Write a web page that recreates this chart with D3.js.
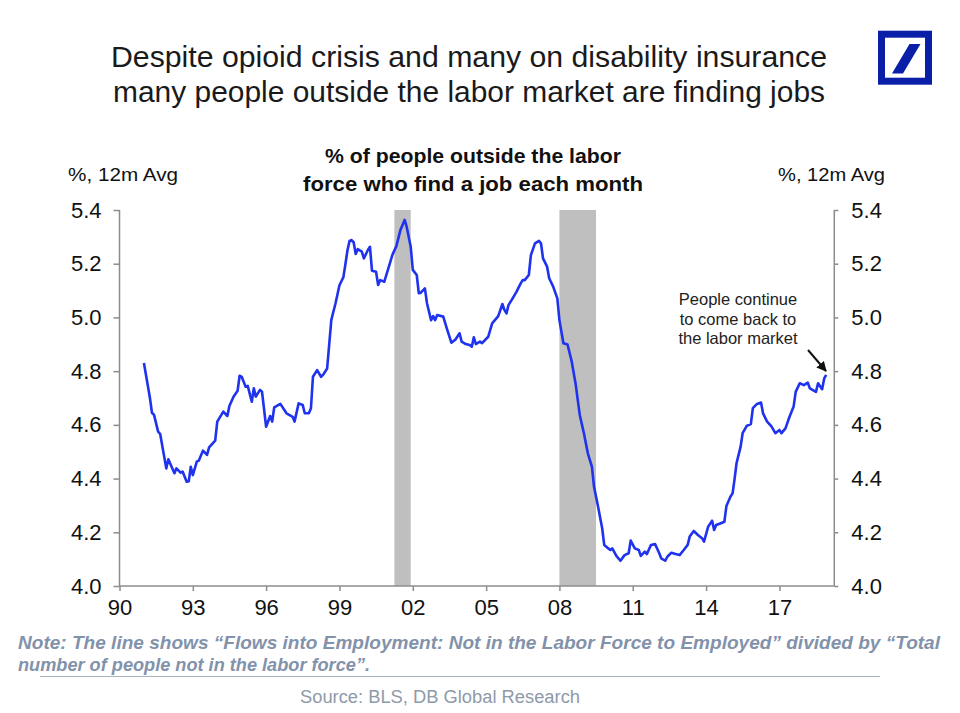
<!DOCTYPE html>
<html>
<head>
<meta charset="utf-8">
<script src="https://cdn.jsdelivr.net/npm/d3@7"></script>
<style>
  html, body { margin: 0; padding: 0; background: #fff; }
  svg { display: block; font-family: "Liberation Sans", Arial, sans-serif; }
</style>
</head>
<body>
<svg id="chart" width="960" height="713"></svg>
<script>
// ---- Data ----
const months = [
"1991-01","1991-04","1991-05","1991-06","1991-08","1991-09","1991-12",
"1992-01","1992-04","1992-05","1992-07","1992-08","1992-10","1992-11","1992-12",
"1993-01","1993-03","1993-04","1993-06","1993-08","1993-09","1993-12",
"1994-01","1994-04","1994-06","1994-07","1994-09","1994-11","1994-12",
"1995-01","1995-03","1995-04","1995-06","1995-07","1995-08","1995-10","1995-11",
"1996-01","1996-03","1996-04","1996-05","1996-08","1996-11",
"1997-02","1997-03","1997-05","1997-07","1997-08","1997-10","1997-11","1997-12",
"1998-02","1998-04","1998-05","1998-07","1998-08","1998-09","1998-10","1998-11",
"1999-01","1999-03","1999-04","1999-05","1999-06","1999-07","1999-08","1999-09","1999-10","1999-12",
"2000-01","2000-03","2000-04","2000-05","2000-07","2000-08","2000-09","2000-11",
"2001-01","2001-03","2001-05","2001-07","2001-08","2001-09","2001-10","2001-12",
"2002-01","2002-03","2002-04","2002-05","2002-07","2002-08","2002-10","2002-11","2002-12",
"2003-01","2003-04","2003-06","2003-08","2003-10","2003-12",
"2004-01","2004-03","2004-05","2004-06","2004-07","2004-08","2004-10","2004-11",
"2005-02","2005-04","2005-07","2005-09","2005-10","2005-11","2005-12",
"2006-02","2006-04","2006-06","2006-07","2006-08","2006-10","2006-11",
"2007-01","2007-03","2007-04","2007-05","2007-07","2007-08","2007-10","2007-12",
"2008-01","2008-03","2008-05","2008-07","2008-09","2008-10","2008-11",
"2009-01","2009-03","2009-05","2009-06","2009-08","2009-10","2009-11",
"2010-01","2010-02","2010-03","2010-05","2010-07","2010-09","2010-11","2010-12",
"2011-02","2011-04","2011-05","2011-07","2011-08","2011-09","2011-10","2011-12",
"2012-02","2012-03","2012-05","2012-06","2012-08","2012-10","2012-12",
"2013-02","2013-04","2013-05","2013-07","2013-09","2013-11","2013-12",
"2014-02","2014-04","2014-05","2014-06","2014-08","2014-10","2014-11",
"2015-01","2015-02","2015-03","2015-04","2015-06","2015-07","2015-09","2015-11","2015-12",
"2016-02","2016-04","2016-05","2016-07","2016-09","2016-11",
"2017-01","2017-02","2017-04","2017-06","2017-08","2017-09","2017-11",
"2018-01","2018-03","2018-04","2018-07","2018-08","2018-10","2018-11","2018-12"
];
const values = [
4.83,4.70,4.645,4.637,4.575,4.566,4.438,
4.472,4.42,4.438,4.422,4.426,4.388,4.39,4.444,
4.413,4.463,4.467,4.504,4.488,4.516,4.541,
4.612,4.649,4.633,4.670,4.705,4.727,4.783,
4.779,4.742,4.745,4.686,4.736,4.705,4.73,4.723,
4.593,4.633,4.612,4.665,4.678,4.643,
4.63,4.612,4.68,4.674,4.643,4.643,4.662,4.779,
4.804,4.779,4.786,4.81,4.90,4.99,5.02,5.05,
5.12,5.15,5.20,5.25,5.285,5.288,5.28,5.236,5.254,5.245,
5.22,5.251,5.263,5.174,5.17,5.121,5.139,5.133,
5.183,5.232,5.266,5.326,5.344,5.363,5.338,5.263,
5.177,5.158,5.09,5.092,5.108,5.053,4.99,5.005,4.99,
5.009,5.003,4.953,4.906,4.918,4.941,
4.91,4.901,4.897,4.891,4.926,4.901,4.91,4.904,
4.928,4.978,5.005,5.05,5.028,5.015,5.046,
5.071,5.096,5.127,5.139,5.139,5.158,5.232,
5.276,5.285,5.276,5.22,5.189,5.146,5.114,5.071,
4.99,4.904,4.899,4.838,4.75,4.693,4.636,
4.569,4.494,4.444,4.37,4.295,4.215,4.153,
4.14,4.134,4.14,4.112,4.094,4.115,4.122,4.169,
4.14,4.134,4.112,4.128,4.119,4.137,4.153,4.156,
4.122,4.103,4.094,4.109,4.124,4.119,4.115,
4.134,4.153,4.184,4.205,4.19,4.178,4.165,
4.221,4.243,4.209,4.227,4.233,4.239,4.298,
4.333,4.345,4.395,4.457,4.519,4.569,4.596,4.603,4.662,
4.678,4.683,4.643,4.612,4.595,4.569,
4.581,4.569,4.587,4.63,4.668,4.723,4.755,
4.748,4.757,4.736,4.723,4.755,4.733,4.773,4.786
];
const recessionStarts = ["2001-04","2008-01"];
const recessionEnds   = ["2001-12","2009-07"];
const xTickYears = [1990,1993,1996,1999,2002,2005,2008,2011,2014,2017];
const yTickValues = [4.0,4.2,4.4,4.6,4.8,5.0,5.2,5.4];

const titleLines = ["Despite opioid crisis and many on disability insurance",
                    "many people outside the labor market are finding jobs"];
const subtitleLines = ["% of people outside the labor", "force who find a job each month"];
const axisUnit = "%, 12m Avg";
const annotationLines = ["People continue","to come back to","the labor market"];
const noteLine1 = "Note: The line shows \u201cFlows into Employment: Not in the Labor Force to Employed\u201d divided by \u201cTotal";
const noteLine2 = "number of people not in the labor force\u201d.";
const sourceText = "Source: BLS, DB Global Research";

// ---- Chart ----
const parse = d3.timeParse("%Y-%m");
const series = months.map((m, i) => ({ date: parse(m), value: values[i] }));

const svg = d3.select("#chart");
const L = 119.5, R = 834.3, T = 210, B = 586;

const x = d3.scaleTime().domain([new Date(1990,0,1), new Date(2019,3,1)]).range([L, R]);
const y = d3.scaleLinear().domain([4.0, 5.4]).range([B, T]);

// Title
svg.append("g").selectAll("text").data(titleLines).join("text")
  .attr("x", 469).attr("y", (d, i) => 67 + i * 35)
  .attr("text-anchor", "middle").attr("font-size", 29).attr("fill", "#1a1a1a")
  .attr("textLength", (d, i) => i === 0 ? 716 : 712).attr("lengthAdjust", "spacingAndGlyphs")
  .text(d => d);

// Logo
const logo = svg.append("g");
logo.append("rect").attr("x", 881.5).attr("y", 34.2).attr("width", 47).attr("height", 47)
  .attr("fill", "none").attr("stroke", "#0a1fa8").attr("stroke-width", 7);
logo.append("polygon").attr("points", "909.5,44 920.5,44 903,73.5 892,73.5").attr("fill", "#0a1fa8");

// Subtitle
svg.append("g").selectAll("text").data(subtitleLines).join("text")
  .attr("x", 473).attr("y", (d, i) => 163 + i * 28)
  .attr("text-anchor", "middle").attr("font-size", 21).attr("font-weight", "bold").attr("fill", "#111")
  .attr("textLength", (d, i) => i === 0 ? 296 : 340).attr("lengthAdjust", "spacingAndGlyphs")
  .text(d => d);

// Unit labels
svg.append("text").attr("x", 68).attr("y", 181).attr("font-size", 19).attr("fill", "#111")
  .attr("textLength", 110).attr("lengthAdjust", "spacingAndGlyphs").text(axisUnit);
svg.append("text").attr("x", 778).attr("y", 181).attr("font-size", 19).attr("fill", "#111")
  .attr("textLength", 107).attr("lengthAdjust", "spacingAndGlyphs").text(axisUnit);

// Recession bands
svg.append("g").selectAll("rect").data(recessionStarts.map((s, i) => [parse(s), parse(recessionEnds[i])]))
  .join("rect")
  .attr("x", d => x(d[0])).attr("width", d => x(d[1]) - x(d[0]))
  .attr("y", T).attr("height", B - T).attr("fill", "#bfbfbf");

// Axes
const axisColor = "#8c8c8c";
const yLeft = svg.append("g").attr("transform", `translate(${L},0)`)
  .call(d3.axisLeft(y).tickValues(yTickValues).tickFormat(d3.format(".1f")).tickSize(6).tickPadding(12));
const yRight = svg.append("g").attr("transform", `translate(${R},0)`)
  .call(d3.axisRight(y).tickValues(yTickValues).tickFormat(d3.format(".1f")).tickSize(4).tickPadding(13));
const xAxis = svg.append("g").attr("transform", `translate(0,${B})`)
  .call(d3.axisBottom(x).tickValues(xTickYears.map(yr => new Date(yr,0,1))).tickFormat(d3.timeFormat("%y")).tickSize(5).tickPadding(8));
[yLeft, yRight, xAxis].forEach(g => {
  g.select(".domain").attr("stroke", axisColor).attr("stroke-width", 1.5);
  g.selectAll(".tick line").attr("stroke", axisColor).attr("stroke-width", 1.5);
  g.selectAll(".tick text").attr("font-size", 22).attr("fill", "#111")
    .attr("font-family", "'Liberation Sans', Arial, sans-serif");
});
xAxis.select(".domain").attr("d", `M${L},0H${R}`);
yLeft.select(".domain").attr("d", `M0,${T}V${B}`);
yRight.select(".domain").attr("d", `M0,${T}V${B}`);

// Line
svg.append("path").datum(series)
  .attr("d", d3.line().x(d => x(d.date)).y(d => y(d.value)).curve(d3.curveLinear))
  .attr("fill", "none").attr("stroke", "#1f32ee").attr("stroke-width", 2.6)
  .attr("stroke-linejoin", "round");

// Annotation
svg.append("g").selectAll("text").data(annotationLines).join("text")
  .attr("x", 738).attr("y", (d, i) => 305 + i * 19.6)
  .attr("text-anchor", "middle").attr("font-size", 16.5).attr("fill", "#222").text(d => d);
svg.append("defs").append("marker").attr("id", "arr").attr("viewBox", "0 0 10 10")
  .attr("refX", 9).attr("refY", 5).attr("markerWidth", 5).attr("markerHeight", 5).attr("orient", "auto")
  .append("path").attr("d", "M0,0L10,5L0,10Z").attr("fill", "#111");
svg.append("line").attr("x1", 808).attr("y1", 350).attr("x2", 826).attr("y2", 371)
  .attr("stroke", "#111").attr("stroke-width", 2).attr("marker-end", "url(#arr)");

// Note
const noteColor = "#8292aa";
svg.append("text").attr("x", 18).attr("y", 649).attr("font-size", 18).attr("font-weight", "bold")
  .attr("font-style", "italic").attr("fill", noteColor)
  .attr("textLength", 922).attr("lengthAdjust", "spacingAndGlyphs").text(noteLine1);
svg.append("text").attr("x", 18).attr("y", 671).attr("font-size", 18).attr("font-weight", "bold")
  .attr("font-style", "italic").attr("fill", noteColor)
  .attr("textLength", 352).attr("lengthAdjust", "spacingAndGlyphs").text(noteLine2);
svg.append("line").attr("x1", 40).attr("x2", 880).attr("y1", 676.5).attr("y2", 676.5)
  .attr("stroke", "#a9b4c2").attr("stroke-width", 1);
svg.append("text").attr("x", 300).attr("y", 703).attr("font-size", 18)
  .attr("fill", "#8e9aa8").attr("textLength", 280).attr("lengthAdjust", "spacingAndGlyphs").text(sourceText);
</script>
</body>
</html>
